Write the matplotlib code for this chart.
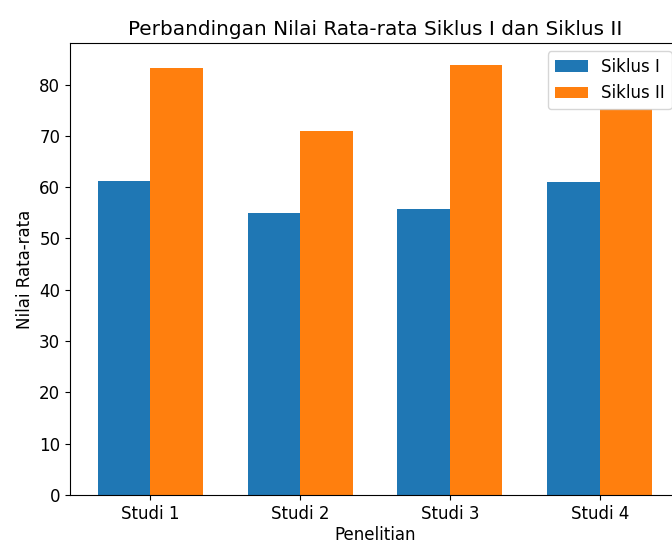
import numpy as np
import matplotlib.pyplot as plt

# Data
studi = ['Studi 1', 'Studi 2', 'Studi 3', 'Studi 4']
siklus_1 = [61.2, 54.9, 55.8, 61.0]
siklus_2 = [83.3, 70.9, 83.9, 75.3]

plt.rcParams['font.size'] = 12

x = np.arange(len(studi))
width = 0.35

fig = plt.figure(figsize=(6.72, 5.45), dpi=100)
# axes runs slightly past the right edge, as in the cropped reference
ax = fig.add_axes([70 / 672, 50 / 545, 610 / 672, 452 / 545])

ax.bar(x - width / 2, siklus_1, width, label='Siklus I')
ax.bar(x + width / 2, siklus_2, width, label='Siklus II')

ax.set_xticks(x)
ax.set_xticklabels(studi)
ax.set_xlabel('Penelitian', labelpad=2)
ax.set_ylabel('Nilai Rata-rata')
ax.set_title('Perbandingan Nilai Rata-rata Siklus I dan Siklus II')
ax.legend(loc='upper right')

fig.savefig('out.png', dpi=100)
